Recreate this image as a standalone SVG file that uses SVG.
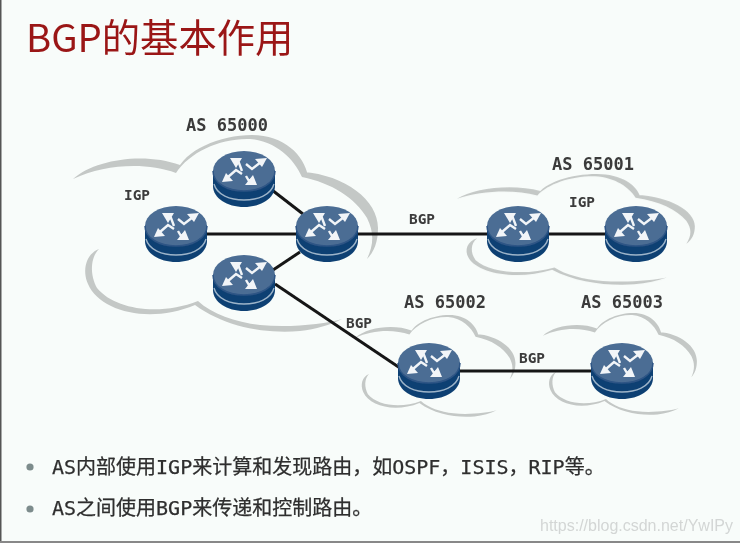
<svg xmlns="http://www.w3.org/2000/svg" width="740" height="543" viewBox="0 0 740 543">
<style>
.lbl{font-family:"DejaVu Sans Mono","Noto Sans CJK SC",monospace;font-weight:bold;fill:#3a3a3a;text-anchor:middle}
.as{font-size:17px}
.pr{font-size:14.4px}
.bul{font-family:"DejaVu Sans Mono","Noto Sans CJK SC",monospace;font-size:20px;fill:#2e2e2e;stroke:#2e2e2e;stroke-width:0.25}
.cl{fill:#c4c8c6}
.ln{stroke:#141414;stroke-width:2.9;fill:none}
.ar{stroke:#f2f5f8;stroke-width:2.4;fill:none}
.hd{fill:#f2f5f8}
</style>
<defs>
<filter id="soft" x="-5%" y="-5%" width="110%" height="110%"><feGaussianBlur stdDeviation="0.6"/></filter>
<path id="cloud" d="M73,179 C95,159 145,152 180,165 L176,173 C146,162 105,164 73,179 Z
M176,173 C184,150 220,135 252,135 C284,135 304,155 308,176 L302,177 C294,159 276,141 250,139 C220,138 190,152 176,173 Z
M303,172 C345,175 378,200 378,228 C378,242 374,252 367,259 C374,244 374,232 367,218 C355,198 332,183 302,177 Z
M99,249 C86,254 82,270 88,284 C100,312 150,324 195,305 C225,327 265,334 300,331 C316,329 330,325 342,319 C325,324 290,328 260,325 C235,322 212,314 198,301 C160,316 115,310 97,288 C90,275 90,258 99,249 Z"/>
<g id="router">
<path d="M-31,19 V35 C-31,47 -17,56 0,56 C17,56 31,47 31,35 V19 Z" fill="#0e4073"/>
<path d="M-30,33 C-27,44 -14,49 0,49 C14,49 27,44 30,33" fill="none" stroke="#9db4c9" stroke-width="1.4"/>
<ellipse cx="0" cy="20" rx="31" ry="20" fill="#4b6d94"/>
<path d="M-31,20 C-31,32 -17,40 0,40 C17,40 31,32 31,20" fill="none" stroke="#2e5585" stroke-width="1.5"/>
<path class="ar" d="M2,13 L8,18 L17,11"/><path class="hd" d="M23,7 L11,8 L18,16 Z"/>
<path class="ar" d="M-2,20 L-5,12 L-8,12"/><path class="hd" d="M-14,7 L-2,7 L-8,17 Z"/>
<path class="ar" d="M-2,23 L-8,19 L-16,26"/><path class="hd" d="M-22,31 L-11,30 L-18,22 Z"/>
<path class="ar" d="M2,25 L5,30 L8,28"/><path class="hd" d="M13,34 L1,34 L9,24 Z"/>
</g>
</defs>
<rect width="740" height="543" fill="#f8fcfa"/>
<rect x="0" y="0" width="1.5" height="543" fill="#555"/>
<rect x="0" y="541" width="740" height="2" fill="#888"/>
<g filter="url(#soft)">
<text id="title" x="26" y="52" font-family="'Noto Sans CJK SC','Noto Sans',sans-serif" font-size="38.3" fill="#9a1515">BGP的基本作用</text>
<g id="clouds">
<use href="#cloud" class="cl"/>
<use href="#cloud" class="cl" transform="translate(400,98) scale(0.78,0.563)"/>
<use href="#cloud" class="cl" transform="translate(317,245) scale(0.525,0.518)"/>
<use href="#cloud" class="cl" transform="translate(506,243) scale(0.505,0.518)"/>
</g>
<g id="connectors">
<path class="ln" d="M272,190 L303,214"/>
<path class="ln" d="M206,234 H297"/>
<path class="ln" d="M273,270 L300,252"/>
<path class="ln" d="M275,284 L400,368"/>
<path class="ln" d="M357,234 H488"/>
<path class="ln" d="M548,234 H606"/>
<path class="ln" d="M459,371 H592"/>
</g>
<g id="r1"><use href="#router" x="244" y="151"/></g>
<g id="r2"><use href="#router" x="176" y="206"/></g>
<g id="r3"><use href="#router" x="327" y="206"/></g>
<g id="r4"><use href="#router" x="244" y="255"/></g>
<g id="r5"><use href="#router" x="518" y="206"/></g>
<g id="r6"><use href="#router" x="636" y="206"/></g>
<g id="r7"><use href="#router" x="429" y="343"/></g>
<g id="r8"><use href="#router" x="622" y="343"/></g>
<g id="labels">
<text class="lbl as" x="227" y="131">AS 65000</text>
<text class="lbl as" x="593" y="170">AS 65001</text>
<text class="lbl as" x="445" y="308">AS 65002</text>
<text class="lbl as" x="622" y="308">AS 65003</text>
<text class="lbl pr" x="137" y="200">IGP</text>
<text class="lbl pr" x="582" y="207">IGP</text>
<text class="lbl pr" x="422" y="224">BGP</text>
<text class="lbl pr" x="359" y="328">BGP</text>
<text class="lbl pr" x="532" y="363">BGP</text>
</g>
<g id="bullets">
<circle cx="30" cy="467" r="3.6" fill="#7d8c8c"/>
<circle cx="30" cy="509" r="3.6" fill="#7d8c8c"/>
<text class="bul" x="52" y="474">AS内部使用IGP来计算和发现路由，如OSPF，ISIS，RIP等。</text>
<text class="bul" x="52" y="515">AS之间使用BGP来传递和控制路由。</text>
</g>
<text id="wm" x="540" y="531" font-family="'Liberation Sans',sans-serif" font-size="16" fill="#d3d6d5">https://blog.csdn.net/YwIPy</text>
</g>
</svg>
